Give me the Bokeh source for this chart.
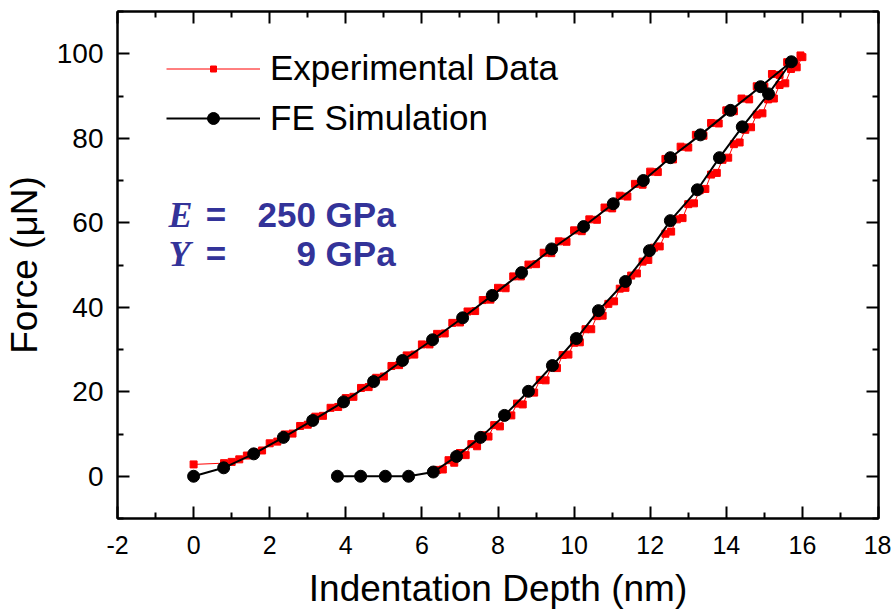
from bokeh.plotting import figure
from bokeh.models import (Range1d, FixedTicker, LinearAxis, Legend, LegendItem, Label)
from bokeh.embed import file_html
from bokeh.resources import INLINE

# ---------------- data ----------------
exp_load_x = [0.00, 0.80, 1.00, 1.20, 1.40, 1.60, 1.80, 2.00, 2.20, 2.40, 2.60, 2.80, 3.00, 3.20,
              3.40, 3.60, 3.80, 4.00, 4.20, 4.40, 4.60, 4.80, 5.00, 5.20, 5.40, 5.60, 5.80, 6.00,
              6.20, 6.40, 6.60, 6.80, 7.00, 7.20, 7.40, 7.60, 7.80, 8.00, 8.20, 8.40, 8.60, 8.80,
              9.00, 9.20, 9.40, 9.60, 9.80, 10.00, 10.20, 10.40, 10.60, 10.80, 11.00, 11.20,
              11.40, 11.60, 11.80, 12.00, 12.20, 12.40, 12.60, 12.80, 13.00, 13.20, 13.40, 13.60,
              13.80, 14.00, 14.20, 14.40, 14.60, 14.80, 15.00, 15.20, 15.40, 15.60, 15.80, 15.95]
exp_load_f = [2.8, 3.1, 3.4, 4.0, 4.9, 5.6, 6.1, 7.8, 8.2, 9.9, 10.1, 11.9, 12.2, 14.1,
              14.3, 16.2, 16.4, 18.5, 18.8, 20.9, 21.1, 23.3, 23.6, 26.1, 26.3, 28.6, 28.8, 31.2,
              31.2, 33.7, 33.8, 36.3, 36.4, 39.0, 39.1, 41.7, 41.8, 44.6, 44.5, 47.3, 47.3, 50.1,
              50.2, 52.9, 52.8, 55.6, 55.5, 58.2, 58.0, 60.8, 60.7, 63.6, 63.4, 66.4,
              66.2, 69.2, 69.0, 72.1, 72.0, 75.1, 75.0, 78.0, 77.8, 80.8, 80.6, 83.6,
              83.5, 86.6, 86.4, 89.4, 89.2, 92.3, 92.2, 95.2, 95.0, 98.0, 98.0, 99.6]
exp_unload_x = [16.00, 15.85, 15.70, 15.55, 15.40, 15.25, 15.10, 14.95, 14.80, 14.65, 14.50, 14.35,
                14.20, 14.05, 13.90, 13.75, 13.60, 13.45, 13.30, 13.15, 13.00, 12.85, 12.70,
                12.55, 12.40, 12.25, 12.10, 11.95, 11.80, 11.65, 11.50, 11.35, 11.20, 11.05,
                10.90, 10.75, 10.60, 10.45, 10.30, 10.15, 10.00, 9.85, 9.70, 9.55, 9.40, 9.25,
                9.10, 8.95, 8.80, 8.65, 8.50, 8.35, 8.20, 8.05, 7.90, 7.75, 7.60, 7.45, 7.30,
                7.15, 7.00, 6.85, 6.70, 6.55, 6.40]
exp_unload_f = [99.2, 96.8, 96.4, 93.0, 92.6, 89.4, 89.2, 85.9, 85.6, 82.6, 82.0, 79.0,
                78.6, 75.4, 74.9, 71.8, 71.4, 68.0, 67.7, 64.6, 64.4, 61.1, 60.8,
                57.9, 57.4, 54.4, 54.1, 51.2, 50.8, 48.0, 47.5, 44.6, 44.4, 41.4,
                40.8, 38.0, 37.9, 34.8, 34.8, 31.7, 31.6, 28.8, 28.7, 25.6, 25.8, 22.7,
                22.8, 19.8, 20.0, 17.0, 17.2, 14.4, 14.6, 11.8, 12.1, 9.4, 9.7, 7.1, 7.6,
                5.0, 5.5, 3.2, 3.8, 1.6, 1.5]

sim_load_x = [0.00, 0.79, 1.58, 2.36, 3.13, 3.94, 4.73, 5.49, 6.28, 7.07, 7.85, 8.62, 9.41,
              10.25, 11.03, 11.82, 12.53, 13.32, 14.11, 14.90, 15.71]
sim_load_f = [0.0, 2.0, 5.3, 9.2, 13.2, 17.6, 22.4, 27.4, 32.3, 37.5, 42.8, 48.2, 53.8,
              59.1, 64.5, 70.0, 75.4, 80.8, 86.6, 92.2, 98.1]
sim_unload_x = [15.11, 14.42, 13.82, 13.24, 12.53, 11.98, 11.35, 10.64, 10.06, 9.43, 8.80,
                8.17, 7.54, 6.91, 6.30, 5.65, 5.04, 4.39, 3.78]
sim_unload_f = [90.5, 82.7, 75.4, 67.8, 60.5, 53.4, 46.1, 39.2, 32.6, 26.2, 20.1,
                14.4, 9.2, 4.7, 1.0, 0.0, 0.0, 0.0, 0.0]

x_ticks = [-2, 0, 2, 4, 6, 8, 10, 12, 14, 16, 18]
x_minor = [-1, 1, 3, 5, 7, 9, 11, 13, 15, 17]
y_ticks = [0, 20, 40, 60, 80, 100]
y_minor = [-10, 10, 30, 50, 70, 90, 110]

exp_x = exp_load_x + exp_unload_x
exp_f = exp_load_f + exp_unload_f
sim_x = sim_load_x + sim_unload_x
sim_f = sim_load_f + sim_unload_f

FONT = "Liberation Sans"
BLUE = "#333399"

p = figure(width=891, height=612, output_backend="svg", toolbar_location=None,
           x_range=Range1d(-2, 18), y_range=Range1d(-10, 110),
           min_border_left=117, min_border_right=13, min_border_top=11, min_border_bottom=94,
           background_fill_color="white", border_fill_color="white")
p.grid.visible = False
p.outline_line_color = "black"
p.outline_line_width = 2

def style_axis(ax, ticks, minor, show_labels=True):
    ax.ticker = FixedTicker(ticks=ticks, minor_ticks=minor)
    ax.axis_line_width = 2
    ax.axis_line_color = "black"
    ax.major_tick_in = 12
    ax.major_tick_out = 0
    ax.minor_tick_in = 6
    ax.minor_tick_out = 0
    ax.major_tick_line_width = 2
    ax.minor_tick_line_width = 2
    ax.major_tick_line_color = "black"
    ax.minor_tick_line_color = "black"
    ax.major_label_text_color = "black"
    ax.axis_label_text_color = "black"
    if not show_labels:
        ax.major_label_text_font_size = "0px"
        ax.major_label_standoff = 0
        ax.axis_label = None

xa = p.xaxis[0]
ya = p.yaxis[0]
style_axis(xa, x_ticks, x_minor)
style_axis(ya, y_ticks, y_minor)
xa.major_label_overrides = {t: str(t) for t in x_ticks}
xa.axis_label = "Indentation Depth (nm)"
ya.axis_label = "Force (\u03bcN)"
xa.axis_label_text_font = FONT
ya.axis_label_text_font = FONT
xa.axis_label_text_font_style = "normal"
ya.axis_label_text_font_style = "normal"
xa.axis_label_text_font_size = "37px"
ya.axis_label_text_font_size = "37px"
xa.major_label_text_font = FONT
ya.major_label_text_font = FONT
xa.major_label_text_font_size = "25px"
ya.major_label_text_font_size = "28px"
xa.major_label_standoff = 17
ya.major_label_standoff = 14
xa.axis_label_standoff = 11
ya.axis_label_standoff = 9

top_ax = LinearAxis()
right_ax = LinearAxis()
style_axis(top_ax, x_ticks, x_minor, show_labels=False)
style_axis(right_ax, y_ticks, y_minor, show_labels=False)
p.add_layout(top_ax, "above")
p.add_layout(right_ax, "right")

exp_line = p.line(exp_x, exp_f, line_color="red", line_width=1)
exp_pts = p.scatter(exp_x, exp_f, marker="square", size=7, fill_color="red", line_color="red")
sim_line = p.line(sim_x, sim_f, line_color="black", line_width=2)
sim_pts = p.scatter(sim_x, sim_f, marker="circle", size=12, fill_color="black", line_color="black")

def make_legend(label, renderers, gh, loc):
    lg = Legend(items=[LegendItem(label=label, renderers=renderers)], location=loc)
    lg.glyph_width = 94
    lg.glyph_height = gh
    lg.label_height = 40
    lg.spacing = 0
    lg.padding = 0
    lg.margin = 0
    lg.label_standoff = 10
    lg.label_text_font = FONT
    lg.label_text_font_size = "35px"
    lg.label_text_color = "black"
    lg.label_text_baseline = "middle"
    lg.background_fill_alpha = 0
    lg.border_line_alpha = 0
    return lg

p.add_layout(make_legend("Experimental Data", [exp_line, exp_pts], 15, (49, 430)))
p.add_layout(make_legend("FE Simulation", [sim_line, sim_pts], 30, (49, 380)))

# annotation
ann_left = -0.66
ann_eq = 0.32
ann_right = 5.31
row1 = 61.9
row2 = 52.7
for sym, yy in (("E", row1), ("Y", row2)):
    p.add_layout(Label(x=ann_left, y=yy, text=sym, text_font="Liberation Serif",
                       text_font_style="bold italic", text_font_size="36px",
                       text_color=BLUE, text_baseline="alphabetic"))
    p.add_layout(Label(x=ann_eq, y=yy, text="=", text_font=FONT, text_font_style="bold",
                       text_font_size="35px", text_color=BLUE, text_baseline="alphabetic"))
p.add_layout(Label(x=ann_right, y=row1, text="250 GPa", text_font=FONT, text_font_style="bold",
                   text_font_size="35px", text_color=BLUE, text_align="right",
                   text_baseline="alphabetic"))
p.add_layout(Label(x=ann_right, y=row2, text="9 GPa", text_font=FONT, text_font_style="bold",
                   text_font_size="35px", text_color=BLUE, text_align="right",
                   text_baseline="alphabetic"))

open("out.html", "w").write(file_html(p, INLINE))
